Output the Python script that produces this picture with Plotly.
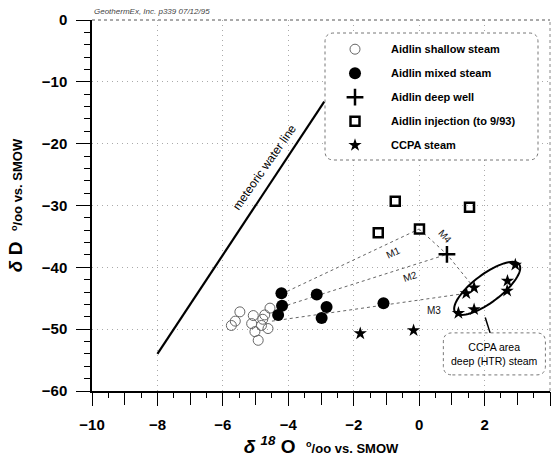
import numpy as np
import plotly.graph_objects as go

# ---------------- data ----------------
SHALLOW_X = [-5.48, -5.62, -5.74, -5.07, -4.72, -5.12, -4.82, -4.62, -5.02, -4.92, -4.56, -4.78]
SHALLOW_Y = [-47.2, -48.7, -49.4, -47.8, -47.7, -49.1, -49.4, -49.9, -50.4, -51.8, -46.6, -48.4]

MIXED_X = [-4.21, -3.13, -4.19, -4.31, -2.83, -2.98, -1.09]
MIXED_Y = [-44.2, -44.4, -46.2, -47.7, -46.4, -48.2, -45.8]

DEEP_X = [0.85]
DEEP_Y = [-37.9]

INJ_X = [-0.73, 1.54, -1.25, 0.01]
INJ_Y = [-29.3, -30.3, -34.4, -33.8]

CCPA_X = [2.94, 2.70, 2.69, 1.68, 1.44, 1.68, 1.20, -0.17, -1.80]
CCPA_Y = [-39.6, -42.2, -43.8, -43.3, -44.2, -46.8, -47.4, -50.2, -50.7]

MWL_X = [-8.0, -2.9]
MWL_Y = [-54.0, -13.2]

MIX_LINES = {
    "M1": ([-4.2, 0.0], [-44.3, -33.8]),
    "M2": ([-4.2, 0.85], [-46.4, -37.9]),
    "M3": ([-4.5, 1.44], [-48.7, -44.2]),
    "M4": ([0.0, 0.85, 1.68], [-33.8, -37.9, -43.3]),
}
MIX_LABELS = {"M1": (-0.79, -37.6, -25), "M2": (-0.28, -41.5, -18),
              "M3": (0.46, -46.9, 0), "M4": (0.80, -35.0, 48)}

LEGEND_NAMES = ["Aidlin shallow steam", "Aidlin mixed steam", "Aidlin deep well",
                "Aidlin injection (to 9/93)", "CCPA steam"]

# ---------------- layout geometry ----------------
W, H = 553, 466
ML, MR, MT, MB = 92, 3, 20, 75
XR = [-10, 4]
YR = [-60, 0]
PW, PH = W - ML - MR, H - MT - MB
PXX = PW / (XR[1] - XR[0])   # pixels per x unit
PXY = PH / (YR[1] - YR[0])   # pixels per y unit

FONT = "Liberation Sans, Arial, sans-serif"
GRID = dict(gridcolor="#aaa", griddash="1px,4px", gridwidth=1)

fig = go.Figure()

# mixing lines
for k, (xs, ys) in MIX_LINES.items():
    fig.add_trace(go.Scatter(x=xs, y=ys, mode="lines", showlegend=False,
                             line=dict(color="#666", width=1, dash="dot"), hoverinfo="skip"))

# meteoric water line
fig.add_trace(go.Scatter(x=MWL_X, y=MWL_Y, mode="lines", showlegend=False,
                         line=dict(color="black", width=2.2), hoverinfo="skip"))

fig.add_trace(go.Scatter(x=SHALLOW_X, y=SHALLOW_Y, mode="markers", name=LEGEND_NAMES[0],
                         legendgroup="a",
                         marker=dict(symbol="circle-open", size=10, color="#666",
                                     line=dict(width=1, color="#666"))))
fig.add_trace(go.Scatter(x=MIXED_X, y=MIXED_Y, mode="markers", name=LEGEND_NAMES[1],
                         legendgroup="b",
                         marker=dict(symbol="circle", size=12, color="black")))
fig.add_trace(go.Scatter(x=DEEP_X, y=DEEP_Y, mode="markers", name=LEGEND_NAMES[2],
                         legendgroup="c",
                         marker=dict(symbol="cross-thin", size=12, color="black",
                                     line=dict(width=2.5, color="black"))))
fig.add_trace(go.Scatter(x=INJ_X, y=INJ_Y, mode="markers", name=LEGEND_NAMES[3],
                         legendgroup="d",
                         marker=dict(symbol="square-open", size=9, color="black",
                                     line=dict(width=2.5, color="black"))))
fig.add_trace(go.Scatter(x=CCPA_X, y=CCPA_Y, mode="markers", name=LEGEND_NAMES[4],
                         legendgroup="e",
                         marker=dict(symbol="star", size=10, color="black")))
# empty trace that keeps the integer-tick overlay axis alive
fig.add_trace(go.Scatter(x=[None], y=[None], xaxis="x2", yaxis="y", mode="markers",
                         showlegend=False, hoverinfo="skip"))


def rounded_rect(x0, x1, y0, y1, rx, ry):
    return (f"M {x0+rx},{y0} L {x1-rx},{y0} Q {x1},{y0} {x1},{y0+ry} "
            f"L {x1},{y1-ry} Q {x1},{y1} {x1-rx},{y1} L {x0+rx},{y1} "
            f"Q {x0},{y1} {x0},{y1-ry} L {x0},{y0+ry} Q {x0},{y0} {x0+rx},{y0} Z")


shapes = []
# legend frame (paper coords)
lx0, lx1 = (325 - ML) / PW, (538 - ML) / PW
ly1, ly0 = 1 - (33 - MT) / PH, 1 - (160 - MT) / PH
shapes.append(dict(type="path", xref="paper", yref="paper",
                   path=rounded_rect(lx0, lx1, ly0, ly1, 9 / PW, 9 / PH),
                   line=dict(color="#777", width=1, dash="dot"), fillcolor="white", layer="above"))

# CCPA callout box (data coords)
bx0, bx1, by0, by1 = 0.74, 3.86, -57.4, -50.6
shapes.append(dict(type="path", xref="x", yref="y",
                   path=rounded_rect(bx0, bx1, by0, by1, 9 / PXX, 9 / PXY),
                   line=dict(color="#777", width=1, dash="dot")))

# ellipse around CCPA deep steam
ecx, ecy, ea, eb, eth = 2.08, -43.4, 40, 14, np.deg2rad(37)
t = np.linspace(0, 2 * np.pi, 73)
ex = ecx + (ea * np.cos(t) * np.cos(eth) - eb * np.sin(t) * np.sin(eth)) / PXX
ey = ecy + (ea * np.cos(t) * np.sin(eth) + eb * np.sin(t) * np.cos(eth)) / PXY
epath = "M " + " L ".join(f"{a:.4f},{b:.4f}" for a, b in zip(ex, ey)) + " Z"
shapes.append(dict(type="path", xref="x", yref="y", path=epath,
                   line=dict(color="black", width=2)))
# callout line
shapes.append(dict(type="line", xref="x", yref="y", x0=2.02, y0=-48.1, x1=2.17, y1=-50.6,
                   line=dict(color="black", width=1.5)))
# top / right frame
shapes.append(dict(type="line", xref="paper", yref="paper", x0=0, x1=1, y0=1, y1=1,
                   line=dict(color="#555", width=1, dash="dot")))
shapes.append(dict(type="line", xref="paper", yref="paper", x0=1, x1=1, y0=0, y1=1,
                   line=dict(color="#888", width=1, dash="dot")))

annotations = [
    dict(text="GeothermEx, Inc. p339 07/12/95", xref="paper", yref="paper",
         x=0, y=1, yshift=2, xanchor="left", yanchor="bottom", showarrow=False,
         font=dict(family=FONT, size=8, color="#444", style="italic")),
    dict(text="meteoric water line", xref="x", yref="y", x=-4.72, y=-23.8,
         textangle=-55, showarrow=False, font=dict(family=FONT, size=12, color="black")),
    dict(text="CCPA area<br>deep (HTR) steam", xref="x", yref="y",
         x=(bx0 + bx1) / 2, y=(by0 + by1) / 2, showarrow=False,
         font=dict(family=FONT, size=10.5, color="black")),
]
for k, (ax_, ay_, ang) in MIX_LABELS.items():
    annotations.append(dict(text=k, xref="x", yref="y", x=ax_, y=ay_, textangle=ang,
                            showarrow=False, font=dict(family=FONT, size=10, color="#111")))

fig.update_layout(
    width=W, height=H,
    margin=dict(l=ML, r=MR, t=MT, b=MB, autoexpand=False),
    paper_bgcolor="white", plot_bgcolor="white",
    font=dict(family=FONT, color="black"),
    showlegend=True,
    legend=dict(x=(319 - ML) / PW, y=1 - (34.7 - MT) / PH, xanchor="left", yanchor="top",
                bgcolor="rgba(0,0,0,0)", borderwidth=0, itemwidth=62,
                tracegroupgap=5,
                font=dict(family=FONT, size=11, color="black", weight="bold")),
    xaxis=dict(range=XR, tick0=0, dtick=2,
               ticks="outside", ticklen=13, tickwidth=1, tickcolor="black",
               ticklabelstandoff=6,
               minor=dict(tickmode="linear", tick0=-10, dtick=0.5, ticks="outside",
                          ticklen=5, tickcolor="black", showgrid=False),
               showgrid=True, **GRID, zeroline=False, showline=True, linecolor="black",
               linewidth=1.5,
               tickfont=dict(family=FONT, size=15, weight="bold"),
               title=dict(text="<i>δ</i> <sup><i>18</i></sup> O  "
                               "<span style='font-size:13px'><sup>o</sup>/oo vs. SMOW</span>",
                          standoff=6, font=dict(family=FONT, size=19, weight="bold"))),
    xaxis2=dict(range=XR, overlaying="x", anchor="y", side="bottom", showgrid=False,
                tick0=0, dtick=1, ticks="outside", ticklen=13, tickwidth=1, tickcolor="black",
                showticklabels=False, zeroline=False, showline=False),
    yaxis=dict(range=YR, dtick=10, ticks="outside", ticklen=14, tickwidth=1, tickcolor="black",
               ticklabelstandoff=6,
               minor=dict(dtick=2, ticks="outside", ticklen=6, tickcolor="black", showgrid=False),
               showgrid=True, **GRID,
               zeroline=False, showline=True, linecolor="black", linewidth=1.5,
               tickfont=dict(family=FONT, size=15, weight="bold"),
               title=dict(text="<i>δ</i> D  "
                               "<span style='font-size:13px'><sup>o</sup>/oo vs. SMOW</span>",
                          standoff=14, font=dict(family=FONT, size=19, weight="bold"))),
    shapes=shapes,
    annotations=annotations,
)

fig.write_html("out.html")
